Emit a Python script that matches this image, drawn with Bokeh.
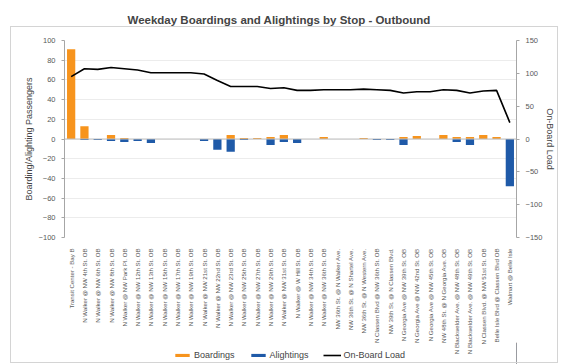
import math
from bokeh.plotting import figure
from bokeh.layouts import column
from bokeh.models import (Range1d, LinearAxis, FactorRange, SingleIntervalTicker, Span,
                          Legend, LegendItem, ColumnDataSource, InlineStyleSheet)
from bokeh.embed import file_html
from bokeh.resources import INLINE

stops = [
    "Transit Center - Bay B",
    "N Walker @ NW 4th St. OB",
    "N Walker @ NW 6th St. OB",
    "N Walker @ NW 8th St. OB",
    "N Walker @ NW Park Pl. OB",
    "N Walker @ NW 12th St. OB",
    "N Walker @ NW 13th St. OB",
    "N Walker @ NW 15th St. OB",
    "N Walker @ NW 17th St. OB",
    "N Walker @ NW 19th St. OB",
    "N Walker @ NW 21st St. OB",
    "N Walker @ NW 22nd St. OB",
    "N Walker @ NW 23rd St. OB",
    "N Walker @ NW 25th St. OB",
    "N Walker @ NW 27th St. OB",
    "N Walker @ NW 29th St. OB",
    "N Walker @ NW 31st St. OB",
    "N Walker @ W Hill St. OB",
    "N Walker @ NW 34th St. OB",
    "N Walker @ NW 36th St. OB",
    "NW 36th St. @ N Walker Ave.",
    "NW 36th St. @ N Shartel Ave.",
    "NW 36th St. @ N Western Ave.",
    "N Classen Blvd @ NW 36th St. OB",
    "NW 39th St. @ N Classen Blvd.",
    "N Georgia Ave @ NW 39th St. OB",
    "N Georgia Ave @ NW 42nd St. OB",
    "N Georgia Ave @ NW 45th St. OB",
    "NW 48th St. @ N Georgia Ave. OB",
    "N Blackwelder Ave. @ NW 48th St. OB",
    "N Blackwelder Ave. @ NW 49th St. OB",
    "N Classen Blvd. @ NW 51st St. OB",
    "Belle Isle Blvd @ Classen Blvd OB",
    "Walmart @ Belle Isle",
]
boardings = [91, 13, 0, 4, 1, 0, 0, 0, 0, 0, 0, 0, 4, 1, 1, 2, 4, 0, 0, 2,
             0, 0, 1, 0, 0, 2, 3, 0, 4, 2, 2, 4, 2, 0]
alightings = [0, -1, -1, -2, -3, -2, -4, 0, 0, 0, -2, -11, -13, -1, 0, -6, -3, -4, 0, 0,
              0, 0, 0, -1, -1, -6, 0, 0, 0, -3, -6, 0, 0, -48]
load = [95, 107, 106, 109, 107, 105, 101, 101, 101, 101, 99, 89, 80, 80, 80, 77, 78, 74, 74, 75,
        75, 75, 76, 75, 74, 70, 72, 72, 75, 74, 70, 73, 74, 25]
series_names = ["Boardings", "Alightings", "On-Board Load"]

FONT = "Liberation Sans"
ORANGE = "#F7941D"
BLUE = "#1F5AA8"
GRAY_TXT = "#595959"

src = ColumnDataSource(dict(stop=stops, b=boardings, a=alightings, load=load))

p = figure(width=562, height=364, output_backend="svg", toolbar_location=None,
           x_range=FactorRange(*stops, range_padding=0), y_range=Range1d(-100, 100),
           min_border_left=64, min_border_right=46, min_border_top=40, min_border_bottom=127)
p.extra_y_ranges = {"load": Range1d(-150, 150)}

p.title.text = "Weekday Boardings and Alightings by Stop - Outbound"
p.title.text_font = FONT
p.title.text_font_size = "11.5px"
p.title.text_font_style = "bold"
p.title.align = "left"
p.title.offset = 63
p.title.vertical_align = "top"
p.title.standoff = 26
p.outline_line_color = None

rb = p.vbar(x="stop", top="b", bottom=0, width=0.62, fill_color=ORANGE, line_color=None, source=src)
ra = p.vbar(x="stop", top="a", bottom=0, width=0.62, fill_color=BLUE, line_color=None, source=src)
p.add_layout(Span(location=0, dimension="width", line_color="#bfbfbf", line_width=1))
rl = p.line(x="stop", y="load", line_color="black", line_width=1.6, y_range_name="load", source=src)

# left axis
ya = p.yaxis[0]
ya.ticker = SingleIntervalTicker(interval=20)
ya.axis_label = "Boarding/Alighting Passengers"
ya.axis_label_text_font = FONT
ya.axis_label_text_font_size = "9px"
ya.axis_label_text_font_style = "normal"
ya.axis_label_standoff = 2
ya.major_label_text_font = FONT
ya.major_label_text_font_size = "7.5px"
ya.major_label_text_color = GRAY_TXT
ya.axis_line_color = "#a6a6a6"
ya.major_tick_line_color = "#a6a6a6"
ya.major_tick_out = 3
ya.major_tick_in = 0
ya.minor_tick_line_color = None

# right axis
ra_ax = LinearAxis(y_range_name="load", ticker=SingleIntervalTicker(interval=50),
                   axis_label="On-Board Load")
ra_ax.axis_label_text_font = FONT
ra_ax.axis_label_text_font_size = "9px"
ra_ax.axis_label_text_font_style = "normal"
ra_ax.axis_label_standoff = 0
ra_ax.major_label_text_font = FONT
ra_ax.major_label_text_font_size = "7.5px"
ra_ax.major_label_text_color = GRAY_TXT
ra_ax.axis_line_color = "#a6a6a6"
ra_ax.major_tick_line_color = "#a6a6a6"
ra_ax.major_tick_out = 3
ra_ax.major_tick_in = 0
ra_ax.minor_tick_line_color = None
p.add_layout(ra_ax, "right")

# x axis
xa = p.xaxis[0]
xa.major_label_orientation = math.pi / 2
xa.major_label_text_font = FONT
xa.major_label_text_font_size = "6.1px"
xa.major_label_text_color = GRAY_TXT
xa.axis_line_color = None
xa.major_tick_line_color = None
xa.minor_tick_line_color = None
xa.major_label_standoff = 5

p.xgrid.grid_line_color = None
p.ygrid.grid_line_color = "#ececec"

# legend strip: transparent figure laid over the bottom of the chart
lg = figure(width=562, height=22, output_backend="svg", toolbar_location=None,
            x_range=Range1d(0, 1), y_range=Range1d(0, 1),
            x_axis_location=None, y_axis_location=None,
            min_border=0, min_border_left=0, min_border_right=0,
            min_border_top=0, min_border_bottom=0, margin=(-22, 0, 0, 0))
lg.outline_line_color = None
lg.background_fill_alpha = 0
lg.border_fill_alpha = 0
lg.xgrid.grid_line_color = None
lg.ygrid.grid_line_color = None
dummy = ColumnDataSource(dict(x=[5, 6], y=[5, 5], t=[5, 5]))
db = lg.vbar(x="x", top="t", width=0.5, fill_color=ORANGE, line_color=None, source=dummy)
da = lg.vbar(x="x", top="t", width=0.5, fill_color=BLUE, line_color=None, source=dummy)
dl = lg.line(x="x", y="y", line_color="black", line_width=1.6, source=dummy)

legend = Legend(items=[LegendItem(label=series_names[0], renderers=[db]),
                       LegendItem(label=series_names[1], renderers=[da]),
                       LegendItem(label=series_names[2], renderers=[dl])],
                orientation="horizontal", location=(109, 4))
legend.label_text_font = FONT
legend.label_text_font_size = "9px"
legend.glyph_width = 18
legend.glyph_height = 4
legend.spacing = 14
legend.padding = 1
legend.margin = 0
legend.label_standoff = 3
legend.border_line_color = None
legend.background_fill_alpha = 0
lg.add_layout(legend, "center")

border_css = InlineStyleSheet(css="""
:host::after {
  content: '';
  position: absolute;
  left: 10px; top: 26px; width: 548px; height: 337px;
  border: 1px solid #d4d4d4;
  pointer-events: none;
  box-sizing: border-box;
}
""")

layout = column(p, lg, spacing=0, stylesheets=[border_css])

open("out.html", "w").write(file_html(layout, INLINE))
